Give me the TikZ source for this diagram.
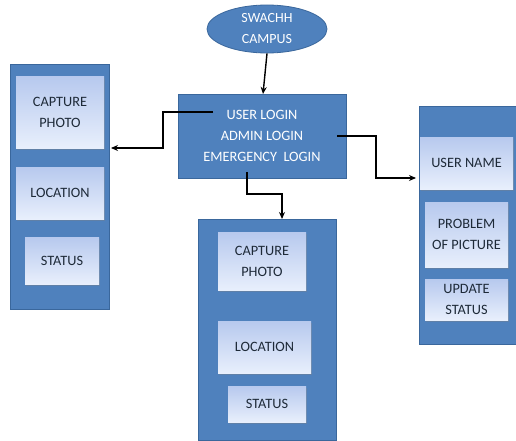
\documentclass[tikz,border=0pt]{standalone}
\usepackage{fontspec}
\setmainfont{Carlito}
\usetikzlibrary{shapes.geometric,arrows.meta,shadows}
\definecolor{obl}{HTML}{4F81BD}
\definecolor{obd}{HTML}{3A679C}
\definecolor{itop}{HTML}{B7C9EE}
\definecolor{ibot}{HTML}{E8EFFC}
\definecolor{itxt}{HTML}{1E2A38}
\tikzset{
  outerbox/.style={draw=obd, line width=0.8pt, fill=obl, inner sep=0pt},
  innerbox/.style={draw=none, rectangle, top color=itop, bottom color=ibot, inner sep=0pt,
    align=center, text=itxt, font=\fontsize{14.3}{21}\selectfont,
    drop shadow={shadow xshift=1pt, shadow yshift=-1.5pt, opacity=0.35}},
  conn/.style={line width=1.4pt, draw=black, -{Stealth[length=7pt,width=6pt]}},
}
\begin{document}
\begin{tikzpicture}[x=1pt,y=-1pt]
\useasboundingbox (0,0) rectangle (516,441);
\fill[white] (0,0) rectangle (516,441);
% title
\node[outerbox, ellipse, minimum width=120pt, minimum height=48pt, text=white, align=center,
  font=\fontsize{14}{21}\selectfont] (ell) at (267,29) {SWACHH\\CAMPUS};
% central
\node[outerbox, rectangle, minimum width=168pt, minimum height=84pt, text=white, align=center,
  font=\fontsize{14.3}{21}\selectfont] (cbox) at (262,136) {USER LOGIN\\ADMIN LOGIN\\EMERGENCY\ \ LOGIN};
% left column
\node[outerbox, rectangle, minimum width=99pt, minimum height=245pt] (lout) at (59.5,186.5) {};
\node[innerbox, minimum width=88pt, minimum height=71pt] (l1) at (60,112.5) {CAPTURE\\PHOTO};
\node[innerbox, minimum width=88pt, minimum height=52pt] (l2) at (60,193) {LOCATION};
\node[innerbox, minimum width=74pt, minimum height=47pt] (l3) at (62,260.5) {STATUS};
% bottom column
\node[outerbox, rectangle, minimum width=138pt, minimum height=221pt] (bout) at (267,329.5) {};
\node[innerbox, minimum width=88pt, minimum height=58pt] (b1) at (262,261) {CAPTURE\\PHOTO};
\node[innerbox, minimum width=93pt, minimum height=52pt] (b2) at (264.5,347) {LOCATION};
\node[innerbox, minimum width=78pt, minimum height=36pt] (b3) at (267,404) {STATUS};
% right column
\node[outerbox, rectangle, minimum width=99pt, minimum height=238pt] (rout) at (468.5,225) {};
\node[innerbox, minimum width=93pt, minimum height=52pt] (r1) at (466.5,163) {USER NAME};
\node[innerbox, minimum width=83pt, minimum height=65pt] (r2) at (466.5,234.5) {PROBLEM\\OF PICTURE};
\node[innerbox, minimum width=83pt, minimum height=41pt] (r3) at (466.5,299.5) {UPDATE\\STATUS};
% connector points
\coordinate (ctop) at (263,94);
\coordinate (cl) at (213,112);
\coordinate (cr) at (337,136);
\coordinate (cb) at (247,172);
\coordinate (lend) at (111,148);
\coordinate (rend) at (416,178);
\coordinate (bend) at (282,219);
\draw[conn] (ell.south) -- (ctop);
\draw[conn] (cl) -- (163,112) |- (lend);
\draw[conn] (cr) -- (376,136) |- (rend);
\draw[conn] (cb) -- (247,194) -| (bend);
\end{tikzpicture}
\end{document}
